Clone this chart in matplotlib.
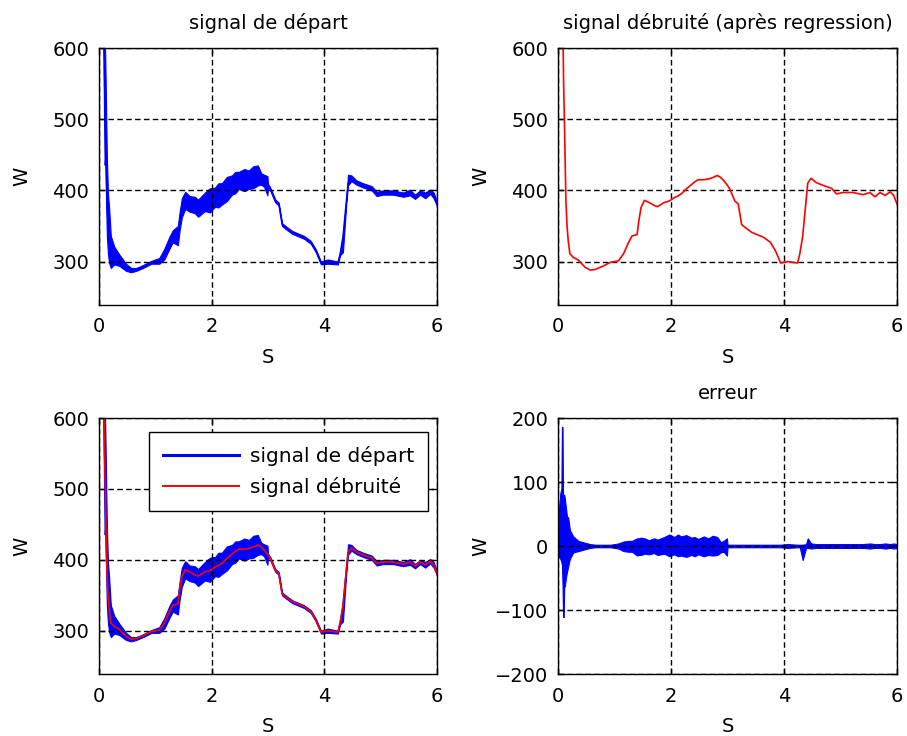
import numpy as np
import matplotlib
matplotlib.use('Agg')
import matplotlib.pyplot as plt

# time axis (s) and denoised power (W)
t = [0.00, 0.02, 0.04, 0.06, 0.07, 0.08, 0.09, 0.10, 0.11, 0.12,
     0.14, 0.16, 0.18, 0.21, 0.27, 0.36, 0.48, 0.57, 0.66, 0.78,
     0.93, 1.07, 1.16, 1.25, 1.31, 1.40, 1.43, 1.47, 1.53, 1.61,
     1.70, 1.76, 1.88, 1.97, 2.06, 2.12, 2.18, 2.27, 2.36, 2.42,
     2.48, 2.58, 2.66, 2.74, 2.82, 2.88, 2.93, 2.99, 3.00, 3.04,
     3.13, 3.19, 3.25, 3.31, 3.43, 3.55, 3.64, 3.76, 3.85, 3.94,
     4.06, 4.24, 4.28, 4.33, 4.39, 4.42, 4.48, 4.57, 4.69, 4.84,
     4.93, 5.04, 5.22, 5.40, 5.52, 5.61, 5.70, 5.79, 5.88, 5.94,
     6.00]
den = [1000, 900, 800, 720, 680, 640, 610, 547, 510, 470,
       385, 350, 330, 311, 306, 302, 292, 288, 289, 293,
       299, 301, 311, 327, 336, 338, 357, 376, 386, 383,
       379, 377, 383, 385, 390, 392, 395, 402, 408, 412,
       415, 415, 416, 418, 421, 418, 414, 408, 407, 402,
       385, 381, 352, 348, 341, 337, 334, 327, 315, 298,
       300, 298, 311, 335, 385, 410, 417, 411, 407, 403,
       395, 397, 397, 394, 397, 391, 397, 393, 398, 393,
       381]

# error envelope (raw - denoised), upper and lower extent
err_hi = [20, 60, 82, 90, 186, 186, 60, 80, 80, 75,
          60, 45, 45, 25, 15, 8, 5, 3, 2, 2,
          2, 4, 7, 8, 8, 12, 12, 13, 12, 9,
          12, 10, 14, 18, 14, 18, 15, 17, 13, 14,
          11, 15, 12, 16, 14, 6, 8, 12, 2, 2,
          2, 2, 2, 2, 2, 2, 2, 2, 2, 2,
          3, 2, 2, 2, 3, 12, 4, 3, 3, 3,
          3, 3, 3, 3, 4, 3, 3, 4, 3, 4,
          3]
err_lo = [-20, -15, -20, -25, -30, -60, -111, -111, -63, -63,
          -50, -40, -32, -20, -10, -8, -5, -3, -2, -2,
          -2, -4, -8, -9, -9, -15, -14, -14, -12, -13,
          -11, -14, -12, -16, -13, -16, -15, -17, -14, -16,
          -13, -16, -14, -15, -14, -10, -9, -15, -2, -2,
          -2, -2, -2, -2, -2, -2, -2, -2, -2, -2,
          -3, -2, -2, -22, -3, -3, -4, -3, -3, -3,
          -3, -3, -3, -3, -4, -3, -3, -4, -3, -4,
          -3]

t = np.array(t)
den = np.array(den, dtype=float)
err_hi = np.array(err_hi, dtype=float)
err_lo = np.array(err_lo, dtype=float)
raw_hi = den + err_hi
raw_lo = den + err_lo

plt.rcParams['font.family'] = 'DejaVu Sans'
plt.rcParams['font.size'] = 14

fig = plt.figure(figsize=(9.07, 7.36), dpi=100)
W, H = 907.0, 736.0


def make_ax(left, top, right, bottom):
    return fig.add_axes([left / W, 1 - bottom / H, (right - left) / W, (bottom - top) / H])


ax1 = make_ax(99, 48, 437, 305)
ax2 = make_ax(558, 48, 897, 305)
ax3 = make_ax(99, 418, 437, 674)
ax4 = make_ax(558, 418, 897, 674)

grid_ls = (0, (4.0, 2.4))


def style(ax, ylim, yticks):
    ax.set_xlim(0, 6)
    ax.set_ylim(*ylim)
    ax.set_xticks([0, 2, 4, 6])
    ax.set_yticks(yticks)
    ax.grid(True, color='black', linestyle=grid_ls, linewidth=1.0)
    ax.tick_params(direction='in', length=4, width=1, top=True, right=True,
                   labelsize=14)
    ax.tick_params(axis='x', pad=9)
    ax.tick_params(axis='y', pad=7)
    for s in ax.spines.values():
        s.set_linewidth(1.0)
        s.set_color('black')
    ax.set_xlabel('S', fontsize=14)
    ax.set_ylabel('W', fontsize=14)
    ax.xaxis.set_label_coords(0.5, -0.205)
    ax.xaxis.label.set_va('center')
    ax.yaxis.set_label_coords(-0.228, 0.5)
    ax.yaxis.label.set_va('center')


blue = '#0000ff'
red = '#ff0000'

# signal de départ
ax1.fill_between(t, raw_lo, raw_hi, color=blue, linewidth=0.8)
ax1.plot(t, den, color=blue, linewidth=1.0)
style(ax1, (239, 600), [300, 400, 500, 600])
ax1.set_title('signal de départ', fontsize=14, pad=14)

# signal débruité
ax2.plot(t, den, color=red, linewidth=1.2)
style(ax2, (239, 600), [300, 400, 500, 600])
ax2.set_title('signal débruité (après regression)', fontsize=14, pad=14)

# superposition
ax3.fill_between(t, raw_lo, raw_hi, color=blue, linewidth=0.8)
ax3.plot(t, den, color=blue, linewidth=1.0)
ax3.plot(t, den, color=red, linewidth=1.2)
style(ax3, (239, 600), [300, 400, 500, 600])
h1 = plt.Line2D([], [], color=blue, linewidth=2.2)
h2 = plt.Line2D([], [], color=red, linewidth=1.4)
leg = ax3.legend([h1, h2], ['signal de départ', 'signal débruité'],
                 loc='upper right', bbox_to_anchor=(0.973, 0.945), borderaxespad=0,
                 fancybox=False, framealpha=1, edgecolor='black',
                 handlelength=3.8, handletextpad=0.5, labelspacing=0.55,
                 borderpad=0.7, fontsize=14.5)
leg.get_frame().set_linewidth(1.0)

# erreur
ax4.fill_between(t, err_lo, err_hi, color=blue, linewidth=0.8)
style(ax4, (-200, 200), [-200, -100, 0, 100, 200])
ax4.set_title('erreur', fontsize=14, pad=14)

fig.savefig('out.png', dpi=100, facecolor='white')
